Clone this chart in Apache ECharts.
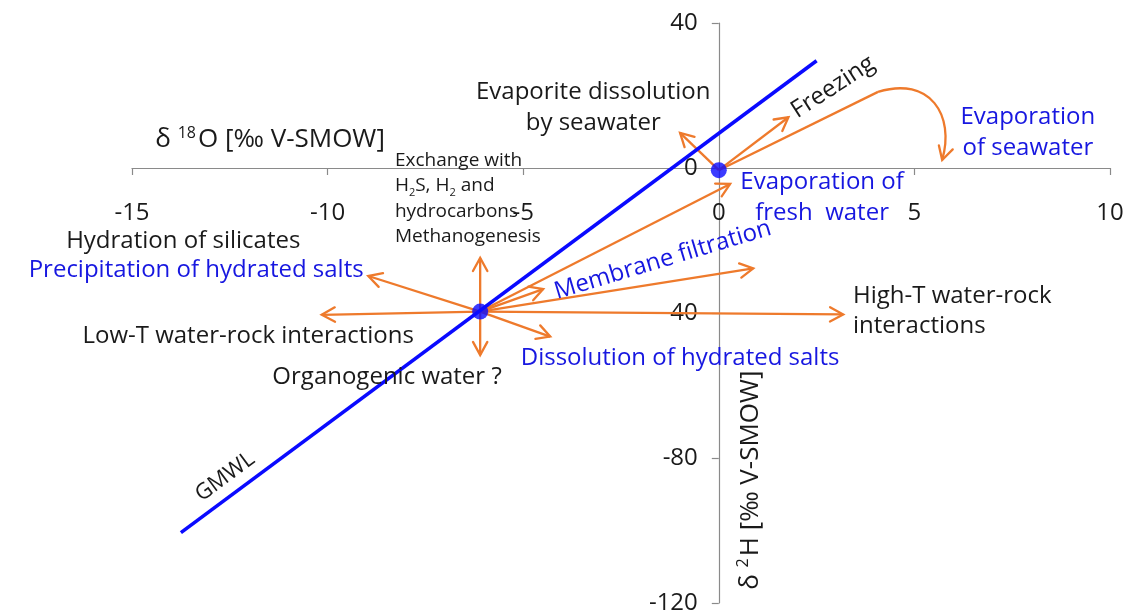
<!DOCTYPE html>
<html>
<head>
<meta charset="utf-8">
<title>δ18O – δ2H processes</title>
<script src="https://cdn.jsdelivr.net/npm/echarts@6/dist/echarts.min.js"></script>
<style>
  html, body { margin: 0; padding: 0; background: #ffffff; }
  #chart { width: 1131px; height: 616px; }
</style>
</head>
<body>
<div id="chart"></div>
<script>
// ---- axis ranges and ticks -------------------------------------------
const xTicks = [-15, -10, -5, 0, 5, 10];
const yTicks = [-120, -80, -40, 0, 40];

// ---- Global Meteoric Water Line (δ2H ≈ 8·δ18O + 10) end points ----------
const gmwl = [[-13.75, -100.6], [2.5, 29.6]];

// ---- reference waters: seawater and a meteoric (fresh) water -----------
const seawater = [0, -0.6];
const freshWater = [-6.1, -39.6];

// ---- process vectors starting at seawater (arrow tips) ------------------
const seawaterTips = [
  [-0.99, 9.7],   // evaporite dissolution by seawater
  [1.78, 14.0]    // freezing
];

// ---- process vectors starting at the fresh water (arrow tips) -----------
const freshTips = [
  [-6.1, -24.8],   // exchange with H2S, H2, hydrocarbons / methanogenesis
  [-6.1, -51.6],   // organogenic water
  [-10.15, -40.5], // low-T water-rock interactions
  [3.18, -40.4],   // high-T water-rock interactions
  [-8.96, -29.8],  // hydration of silicates / precipitation of hydrated salts
  [-4.31, -46.5],  // dissolution of hydrated salts
  [-4.49, -33.4],  // membrane filtration (short)
  [0.88, -27.7],   // membrane filtration (long)
  [0.29, -4.4]     // evaporation of fresh water
];

// ---- evaporation of seawater: straight rise, then a hook back down ------
const evapRise = [4.07, 21.0];
const evapHook = [[4.07, 21.0], [5.40, 25.4], [6.04, 14.6], [5.71, 2.2]];

// ---- annotations: [text, x, y, style key] -------------------------------
const notes = [
  ['Evaporite dissolution\nby seawater', -3.21, 16.7, 'black'],
  ['Freezing', 2.92, 22.3, 'freezing'],
  ['Evaporation\nof seawater', 7.90, 9.8, 'blue'],
  ['Evaporation of\nfresh  water', 2.64, -8.3, 'blue'],
  ['Membrane filtration', -1.43, -25.4, 'membrane'],
  ['Exchange with\n{t|H}{s|2}{t|S, H}{s|2}{t| and}\nhydrocarbons\nMethanogenesis', -8.28, -8.5, 'small'],
  ['Hydration of silicates', -13.69, -20.3, 'black'],
  ['Precipitation of hydrated salts', -13.36, -28.1, 'blue'],
  ['Low-T water-rock interactions', -12.03, -46.5, 'black'],
  ['Organogenic water ?', -8.48, -57.7, 'black'],
  ['Dissolution of hydrated salts', -0.99, -52.4, 'blue'],
  ['High-T water-rock\ninteractions', 3.43, -39.6, 'blackLeft'],
  ['GMWL', -12.62, -85.2, 'gmwl'],
  ['δ {sup|18}O [‰ V-SMOW]', -11.47, 7.7, 'axisX'],
  ['δ {sup|2}H [‰ V-SMOW]', 0.80, -86.1, 'axisY']
];

// ---- styling -------------------------------------------------------------
const FONT = '"Open Sans", "Liberation Sans", sans-serif';
const ORANGE = '#ee7a2c';
const BLUE_LINE = '#0a0aff';
const BLUE_TEXT = '#1717e0';
const BLACK = '#1a1a1a';
const AXIS_GREY = '#8a8a8a';

const noteStyles = {
  black:     { fill: BLACK, size: 24, align: 'center', lh: 31, rot: 0 },
  blackLeft: { fill: BLACK, size: 24, align: 'left', lh: 30, rot: 0 },
  blue:      { fill: BLUE_TEXT, size: 24, align: 'center', lh: 31, rot: 0 },
  freezing:  { fill: BLACK, size: 24, align: 'center', lh: 30, rot: 33 },
  membrane:  { fill: BLUE_TEXT, size: 24, align: 'center', lh: 30, rot: 16.7 },
  small:     { fill: BLACK, size: 19, align: 'left', lh: 25.5, rot: 0 },
  gmwl:      { fill: BLACK, size: 22, align: 'center', lh: 26, rot: 36.6 },
  axisX:     { fill: BLACK, size: 26, align: 'center', lh: 30, rot: 0 },
  axisY:     { fill: BLACK, size: 26, align: 'center', lh: 30, rot: 90 }
};

function arrowShapes(p1, from) {
  const a = Math.atan2(p1[1] - from[1], p1[0] - from[0]);
  const L = 15, h = 0.5;
  const w1 = [p1[0] - L * Math.cos(a - h), p1[1] - L * Math.sin(a - h)];
  const w2 = [p1[0] - L * Math.cos(a + h), p1[1] - L * Math.sin(a + h)];
  return {
    type: 'polyline',
    shape: { points: [w1, p1, w2] },
    style: { stroke: ORANGE, lineWidth: 2.3, fill: null, lineJoin: 'miter', lineCap: 'round' }
  };
}

function renderArrow(params, api) {
  const p0 = api.coord([api.value(0), api.value(1)]);
  const p1 = api.coord([api.value(2), api.value(3)]);
  return {
    type: 'group',
    children: [
      { type: 'line', shape: { x1: p0[0], y1: p0[1], x2: p1[0], y2: p1[1] },
        style: { stroke: ORANGE, lineWidth: 2.3 } },
      arrowShapes(p1, p0)
    ]
  };
}

function renderHook(params, api) {
  const s = api.coord(seawater);
  const r = api.coord(evapRise);
  const c = evapHook.map(p => api.coord(p));
  return {
    type: 'group',
    children: [
      { type: 'line', shape: { x1: s[0], y1: s[1], x2: r[0], y2: r[1] },
        style: { stroke: ORANGE, lineWidth: 2.3 } },
      { type: 'bezierCurve',
        shape: { x1: c[0][0], y1: c[0][1], cpx1: c[1][0], cpy1: c[1][1],
                 cpx2: c[2][0], cpy2: c[2][1], x2: c[3][0], y2: c[3][1] },
        style: { stroke: ORANGE, lineWidth: 2.3, fill: null } },
      arrowShapes(c[3], c[2])
    ]
  };
}

function renderNote(params, api) {
  const n = notes[api.value(2)];
  const st = noteStyles[n[3]];
  const p = api.coord([api.value(0), api.value(1)]);
  const base = { fontSize: st.size, fontFamily: FONT, fill: st.fill, lineHeight: st.lh };
  return {
    type: 'text',
    x: p[0], y: p[1],
    rotation: st.rot * Math.PI / 180,
    style: {
      text: n[0],
      fill: st.fill,
      fontSize: st.size,
      fontFamily: FONT,
      lineHeight: st.lh,
      align: st.align,
      verticalAlign: 'middle',
      rich: {
        t: base,
        s: { fontSize: 11, fontFamily: FONT, fill: st.fill, lineHeight: 14, verticalAlign: 'bottom' },
        sup: { fontSize: 16, fontFamily: FONT, fill: st.fill, lineHeight: 18, verticalAlign: 'top', padding: [0, 2, 0, 0] }
      }
    }
  };
}

// Tick labels sit away from the crossing axes: x labels below the δ2H = 0 line,
// y labels to the left of the δ18O = 0 line.
function renderTickLabel(params, api) {
  const isX = api.value(2) === 0;
  const p = api.coord([api.value(0), api.value(1)]);
  const v = isX ? api.value(0) : api.value(1);
  return {
    type: 'text',
    x: isX ? p[0] : p[0] - 21,
    y: isX ? p[1] + 45 : p[1],
    style: {
      text: String(v),
      fill: BLACK,
      fontSize: 24,
      fontFamily: FONT,
      align: isX ? 'center' : 'right',
      verticalAlign: 'middle'
    }
  };
}

const chart = echarts.init(document.getElementById('chart'), null, { renderer: 'canvas' });

chart.setOption({
  animation: false,
  backgroundColor: '#ffffff',
  grid: { left: 132, right: 21, top: 23, bottom: 13, containLabel: false, outerBoundsMode: 'none' },
  xAxis: {
    type: 'value',
    min: xTicks[0], max: xTicks[xTicks.length - 1], interval: 5,
    axisLine: { onZero: true, lineStyle: { color: AXIS_GREY, width: 1.2 } },
    axisTick: { show: true, length: 7, lineStyle: { color: AXIS_GREY, width: 1.2 } },
    axisLabel: { show: false },
    splitLine: { show: false }
  },
  yAxis: {
    type: 'value',
    min: yTicks[0], max: yTicks[yTicks.length - 1], interval: 40,
    axisLine: { onZero: true, lineStyle: { color: AXIS_GREY, width: 1.2 } },
    axisTick: { show: true, length: 7, lineStyle: { color: AXIS_GREY, width: 1.2 } },
    axisLabel: { show: false },
    splitLine: { show: false }
  },
  series: [
    {
      name: 'tick labels',
      type: 'custom',
      z: 1,
      renderItem: renderTickLabel,
      data: xTicks.map(v => [v, 0, 0]).concat(yTicks.map(v => [0, v, 1]))
    },
    {
      name: 'process arrows',
      type: 'custom',
      z: 2,
      renderItem: renderArrow,
      encode: { x: [0, 2], y: [1, 3] },
      data: seawaterTips.map(t => [seawater[0], seawater[1], t[0], t[1]])
        .concat(freshTips.map(t => [freshWater[0], freshWater[1], t[0], t[1]]))
    },
    {
      name: 'evaporation of seawater',
      type: 'custom',
      z: 2,
      renderItem: renderHook,
      data: [[evapRise[0], evapRise[1]]]
    },
    {
      name: 'GMWL',
      type: 'line',
      z: 3,
      symbol: 'none',
      lineStyle: { color: BLUE_LINE, width: 3.6 },
      data: gmwl
    },
    {
      name: 'reference waters',
      type: 'scatter',
      z: 4,
      symbolSize: 16,
      itemStyle: { color: BLUE_LINE },
      data: [seawater, freshWater]
    },
    {
      name: 'notes',
      type: 'custom',
      z: 5,
      renderItem: renderNote,
      data: notes.map((n, i) => [n[1], n[2], i])
    }
  ]
});
</script>
</body>
</html>
